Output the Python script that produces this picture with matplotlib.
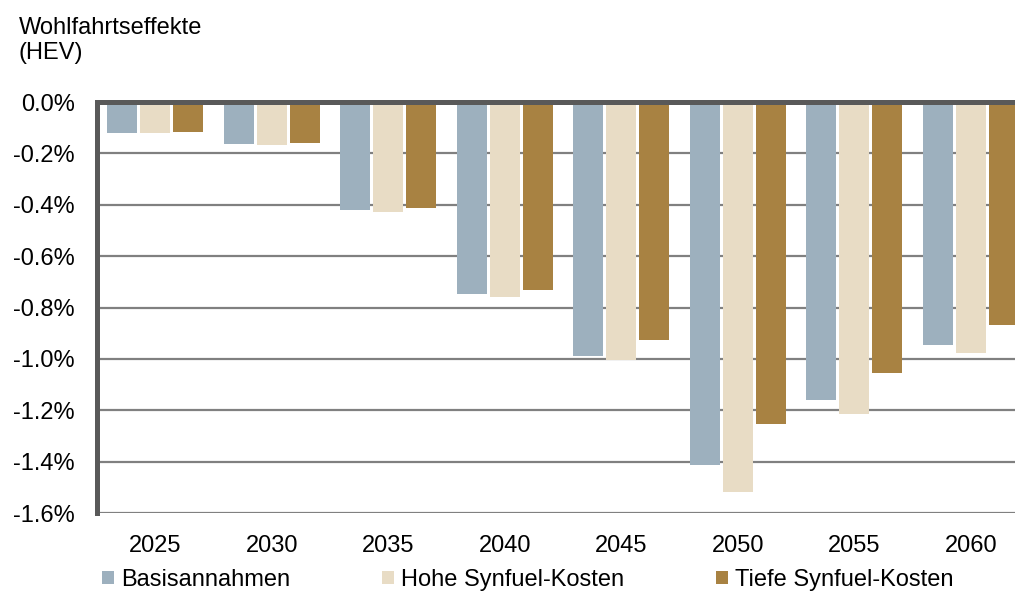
import numpy as np
import matplotlib.pyplot as plt
from matplotlib.ticker import FuncFormatter

plt.rcParams['font.family'] = ['Liberation Sans', 'DejaVu Sans']

# data (in %)
years = ['2025', '2030', '2035', '2040', '2045', '2050', '2055', '2060']
basis = [-0.119, -0.162, -0.419, -0.746, -0.988, -1.414, -1.160, -0.946]
hohe = [-0.122, -0.166, -0.428, -0.759, -1.006, -1.517, -1.216, -0.976]
tiefe = [-0.118, -0.158, -0.413, -0.731, -0.926, -1.252, -1.054, -0.870]
series_names = ['Basisannahmen', 'Hohe Synfuel-Kosten', 'Tiefe Synfuel-Kosten']
colors = ['#9DB0BE', '#E8DCC5', '#A88242']

fig = plt.figure(figsize=(10.15, 5.94), dpi=100)
ax = fig.add_axes([97 / 1015, 81 / 594, 932 / 1015, 411 / 594])

x = np.arange(len(years))
w = 0.257
off = 0.283
bars = []
for i, (vals, c) in enumerate(zip([basis, hohe, tiefe], colors)):
    b = ax.bar(x + (i - 1) * off, vals, width=w, color=c, zorder=2, linewidth=0)
    bars.append(b)


def pct(v, p):
    s = '%.1f%%' % v
    return '0.0%' if s == '-0.0%' else s


ax.set_xlim(-0.5, len(years) - 0.5)
ax.set_ylim(-1.6, 0)
ax.set_yticks(np.arange(-1.6, 0.01, 0.2))
ax.yaxis.set_major_formatter(FuncFormatter(pct))
ax.set_xticks(x)
ax.set_xticklabels(years)
ax.tick_params(axis='both', length=0, labelsize=17)
ax.tick_params(axis='y', pad=16)
ax.tick_params(axis='x', pad=16)

ax.grid(axis='y', color='#808080', linewidth=1.6, zorder=1)
ax.set_axisbelow(True)

for s in ['right', 'bottom']:
    ax.spines[s].set_visible(False)
ax.spines['left'].set_color('#595959')
ax.spines['left'].set_linewidth(3.6)
ax.spines['top'].set_color('#595959')
ax.spines['top'].set_linewidth(3.6)
ax.spines['top'].set_zorder(3)

fig.text(19 / 1015, 1 - 17 / 594, 'Wohlfahrtseffekte\n(HEV)', fontsize=17,
         va='top', ha='left', linespacing=1.2)

fig.legend(bars, series_names, loc='center left',
           bbox_to_anchor=(102 / 1015, 1 - 580 / 594), ncol=3, frameon=False,
           fontsize=17, handlelength=0.5, handleheight=0.5, handletextpad=0.3,
           columnspacing=3.9, borderpad=0, borderaxespad=0)

fig.savefig('out.png', dpi=100)
